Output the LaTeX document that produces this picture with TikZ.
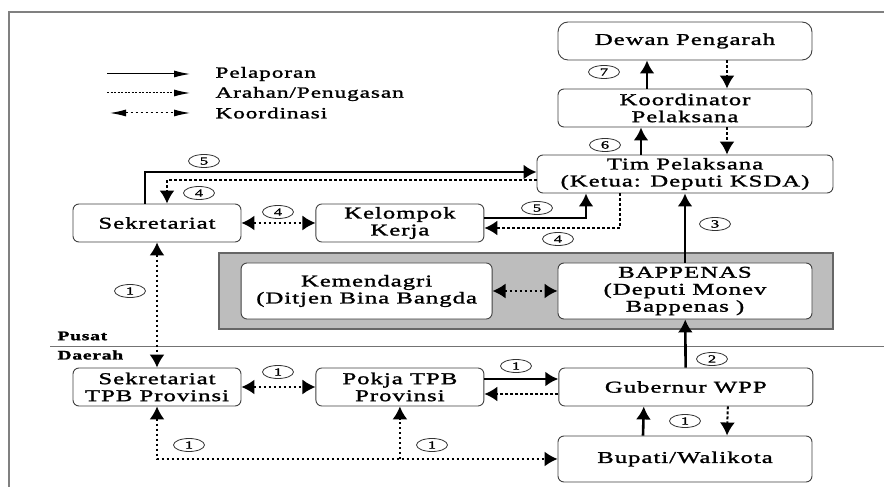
\documentclass[tikz,border=0pt]{standalone}
\usepackage{fontspec}
\setmainfont{Liberation Serif}[FakeStretch=1.5,LetterSpace=6,FakeBold=1.5]
\usetikzlibrary{arrows.meta,shapes.geometric,positioning}
\tikzset{
	box/.style = {shape=rectangle, draw=black!75, fill=white, rounded corners=6pt, line width=0.9pt, align=center, minimum width=254pt, minimum height=38pt, inner sep=2pt, font=\fontsize{16.5}{17}\selectfont},
	sbox/.style = {box, minimum width=168pt},
	num/.style = {shape=ellipse, draw=black!80, line width=0.8pt, minimum width=31pt, minimum height=13pt, inner sep=0pt, font=\fontsize{11}{11}\selectfont},
	lapor/.style = {draw=black, line width=2.6pt, -{Latex[length=13pt,width=15pt]}},
	arah/.style = {draw=black, line width=2pt, dash pattern=on 3pt off 2pt, -{Latex[length=13pt,width=15pt]}},
	koord/.style = {draw=black, line width=1.7pt, dash pattern=on 2pt off 3pt, {Latex[length=13pt,width=15pt]}-{Latex[length=13pt,width=15pt]}}
}
\begin{document}
\begin{tikzpicture}[x=1pt, y=1pt,
	legend_text/.style={anchor=west, font=\fontsize{15.5}{15.5}\selectfont},
	legend_tip/.style={line width=1pt, arrows={-{Latex[length=16pt,width=7pt]}}},
	region_text/.style={anchor=west, font=\fontsize{13}{13}\selectfont\bfseries},
	panel/.style={shape=rectangle, draw=black!60, fill=black!26, line width=1.5pt, minimum width=614pt, minimum height=76pt}
	]
	\useasboundingbox (0,0) rectangle (884,487);
	% frame and divider
	\draw[black!50, line width=1.3pt] (9,0) -- (9,475) -- (884,475);
	\draw[black!55, line width=0.8pt] (50,141) -- (884,141);
	\node[region_text] (pusat) at (54,151) {Pusat};
	\node[region_text] (daerah) at (54,132) {Daerah};
	
	% legend
	\coordinate (l1a) at (107,413); \coordinate (l1b) at (190,413);
	\coordinate (l2a) at (107,394); \coordinate (l2b) at (190,394);
	\coordinate (l3a) at (110,374); \coordinate (l3b) at (190,374);
	\draw[lapor, legend_tip] (l1a) -- (l1b);
	\draw[arah, legend_tip, dash pattern=on 2pt off 1.5pt] (l2a) -- (l2b);
	\draw[koord, legend_tip, arrows={{Latex[length=16pt,width=7pt]}-{Latex[length=16pt,width=7pt]}}] (l3a) -- (l3b);
	\node[legend_text] (lg1) at (212,413) {Pelaporan};
	\node[legend_text] (lg2) at (212,393) {Arahan/Penugasan};
	\node[legend_text] (lg3) at (212,374) {Koordinasi};
	
	% all the nodes
	\node[box, rounded corners=10pt] (dewan) at (685,446) {Dewan Pengarah};
	\node[box] (koor) at (685,379) {Koordinator\\Pelaksana};
	\node[box, minimum width=296pt] (tim) at (685,313) {Tim Pelaksana\\(Ketua: Deputi KSDA)};
	\node[sbox] (sekr) at (157,264) {Sekretariat};
	\node[sbox, right=74pt of sekr] (kerja) {Kelompok\\Kerja};
	\node[panel] (panel) at (526,196) {};
	\node[box, minimum height=56pt] (bap) at (685,196) {BAPPENAS\\(Deputi Monev\\Bappenas )};
	\node[box, minimum width=251pt, minimum height=56pt, left=65pt of bap] (kemen) {Kemendagri\\(Ditjen Bina Bangda};
	\node[sbox] (sekrprov) at (157,100) {Sekretariat\\TPB Provinsi};
	\node[sbox, right=74pt of sekrprov] (pokja) {Pokja TPB\\Provinsi};
	\node[box, right=74pt of pokja] (gub) {Gubernur WPP};
	\node[box, minimum height=46pt] (bup) at (685,28) {Bupati/Walikota};
	
	% connectors
	\draw[lapor] ([xshift=-38pt]koor.north) -- ([xshift=-38pt]dewan.south);
	\draw[arah] ([xshift=42pt]dewan.south) -- ([xshift=42pt]koor.north);
	\draw[lapor] ([xshift=-44pt]tim.north) -- ([xshift=-44pt]koor.south);
	\draw[arah] ([xshift=42pt]koor.south) -- ([xshift=42pt]tim.north);
	\draw[lapor] ([xshift=-12pt]sekr.north) |- ([yshift=2pt]tim.west);
	\draw[arah] ([yshift=-6pt]tim.west) -| ([xshift=10pt]sekr.north);
	\draw[koord] (sekr) -- (kerja);
	\draw[lapor] ([yshift=5pt]kerja.east) -| ([xshift=-99pt]tim.south);
	\draw[arah] ([xshift=-65pt]tim.south) |- ([yshift=-5pt]kerja.east);
	\draw[lapor] (bap) -- (tim);
	\draw[koord] (kemen) -- (bap);
	\draw[koord] (sekr) -- (sekrprov);
	\draw[lapor] (gub) -- (bap);
	\draw[koord] (sekrprov) -- (pokja);
	\draw[lapor] ([yshift=8pt]pokja.east) -- ([yshift=8pt]gub.west);
	\draw[arah] ([yshift=-7pt]gub.west) -- ([yshift=-7pt]pokja.east);
	\draw[lapor] ([xshift=-42pt]bup.north) -- ([xshift=-42pt]gub.south);
	\draw[arah] ([xshift=42pt]gub.south) -- ([xshift=42pt]bup.north);
	\draw[koord] (sekrprov.south) |- (bup.west);
	\coordinate (cabang) at (pokja.south |- bup.west);
	\draw[koord, arrows={-{Latex[length=13pt,width=15pt]}}] (cabang) -- (pokja.south);
	
	% step numbers
	\node[num] (n7) at (604,415) {7};
	\node[num] (n6) at (605,342) {6};
	\node[num] (n5a) at (204,326) {5};
	\node[num] (n4a) at (199,294) {4};
	\node[num] (n4b) at (278,275) {4};
	\node[num] (n5b) at (537,279) {5};
	\node[num] (n4c) at (558,248) {4};
	\node[num] (n3) at (715,263) {3};
	\node[num] (n1a) at (130,196) {1};
	\node[num] (n2) at (712,128) {2};
	\node[num] (n1b) at (278,115) {1};
	\node[num] (n1c) at (516,121) {1};
	\node[num] (n1d) at (685,66) {1};
	\node[num] (n1e) at (189,42) {1};
	\node[num] (n1f) at (432,42) {1};
\end{tikzpicture}
\end{document}
